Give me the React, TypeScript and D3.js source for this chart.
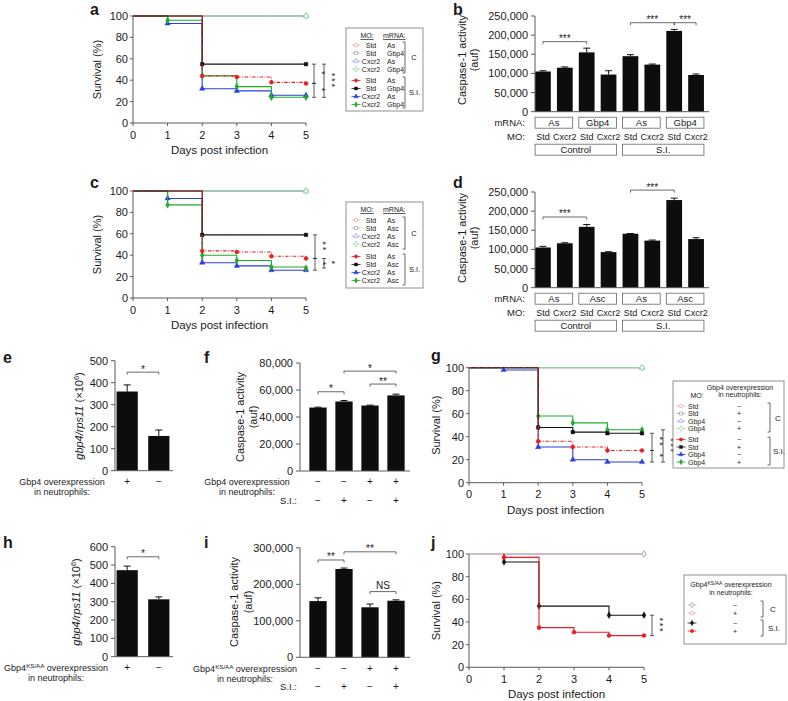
import React from "react";
import * as d3 from "d3";

const FONT = '"Liberation Sans", Arial, Helvetica, sans-serif';
const AXIS = "#5a5a5a";
const INK = "#1a1a1a";

const RED = "#ea1c24";
const BLACK = "#111111";
const BLUE = "#2a3fe0";
const GREEN = "#1faa2a";
const L_RED = "#f5a3a3";
const L_GREY = "#a9a9a9";
const L_BLUE = "#9aa4f0";
const L_GREEN = "#93df93";

// ---------- survival data (% survival at days 0..5) ----------
const DAYS = [0, 1, 2, 3, 4, 5];
const SURVIVAL_TICKS = [0, 20, 40, 60, 80, 100];
const CONTROL_ALL_ALIVE = [100, 100, 100, 100, 100, 100];

const A_SI_STD_AS = [100, 100, 44, 43, 38, 37];
const A_SI_STD_GBP4 = [100, 100, 55, 55, 55, 55];
const A_SI_CXCR2_AS = [100, 93, 32, 30, 26, 26];
const A_SI_CXCR2_GBP4 = [100, 96, 44, 34, 24, 24];

const C_SI_STD_AS = [100, 100, 44, 43, 39, 37];
const C_SI_STD_ASC = [100, 100, 59, 59, 59, 59];
const C_SI_CXCR2_AS = [100, 93, 33, 30, 26, 26];
const C_SI_CXCR2_ASC = [100, 87, 40, 35, 29, 28];

const G_SI_STD_NEG = [100, 100, 36, 31, 28, 28];
const G_SI_STD_POS = [100, 100, 48, 44, 43, 43];
const G_SI_GBP4_NEG = [100, 98, 31, 20, 18, 18];
const G_SI_GBP4_POS = [100, 100, 58, 52, 46, 46];

const J_DAYS_SI = [1, 1, 2, 3, 4, 5];
const J_SI_NEG = [100, 93, 54, 54, 46, 46];
const J_SI_POS = [100, 97, 35, 31, 28, 28];

// ---------- bar data ----------
const MO_LABELS = ["Std", "Cxcr2", "Std", "Cxcr2", "Std", "Cxcr2", "Std", "Cxcr2"];
const B_MRNA = ["As", "Gbp4", "As", "Gbp4"];
const D_MRNA = ["As", "Asc", "As", "Asc"];
const GROUPS = ["Control", "S.I."];
const CASPASE_TICKS_250K = [0, 50000, 100000, 150000, 200000, 250000];
const B_VALUES = [105000, 115000, 155000, 97000, 145000, 123000, 211000, 96000];
const B_ERRORS = [2000, 2000, 11000, 10000, 4000, 1500, 4000, 2500];
const D_VALUES = [105000, 116000, 159000, 93000, 141000, 123000, 229000, 127000];
const D_ERRORS = [3000, 1500, 6000, 1000, 500, 1500, 5000, 3500];

const E_TICKS = [0, 100, 200, 300, 400, 500];
const E_VALUES = [360, 158];
const E_ERRORS = [30, 27];
const H_TICKS = [0, 100, 200, 300, 400, 500, 600];
const H_VALUES = [472, 313];
const H_ERRORS = [22, 13];
const EH_SIGNS = ["+", "−"];

const F_TICKS = [0, 20000, 40000, 60000, 80000];
const F_VALUES = [47000, 51500, 48500, 56000];
const F_ERRORS = [300, 700, 300, 900];
const I_TICKS = [0, 100000, 200000, 300000];
const I_VALUES = [154000, 242000, 137000, 155000];
const I_ERRORS = [9000, 2500, 9000, 2500];
const FI_OVEREXP = ["−", "−", "+", "+"];
const FI_SI = ["−", "+", "−", "+"];

// ---------- legend texts ----------
const AC_LEG_MO = ["Std", "Std", "Cxcr2", "Cxcr2"];
const A_LEG_MRNA = ["As", "Gbp4", "As", "Gbp4"];
const C_LEG_MRNA = ["As", "Asc", "As", "Asc"];
const G_LEG_MO = ["Std", "Std", "Gbp4", "Gbp4"];
const G_LEG_SIGN = ["−", "+", "−", "+"];
const J_LEG_SIGN = ["−", "+"];

const fmt = d3.format(",");
const SHAPES: Record<string, any> = {
  circle: d3.symbolCircle,
  square: d3.symbolSquare,
  triangle: d3.symbolTriangle,
  diamond: d3.symbolDiamond,
};

function Mark({ x, y, shape, color, open, size = 13 }: any) {
  const d = d3.symbol(SHAPES[shape], size)() as string;
  return (
    <path
      transform={`translate(${x},${y})`}
      d={d}
      fill={open ? "#fff" : color}
      stroke={color}
      strokeWidth={open ? 0.8 : 0.4}
    />
  );
}

const C_COLORS = [L_RED, L_GREY, L_BLUE, L_GREEN];
const SI_COLORS = [RED, BLACK, BLUE, GREEN];
const SHAPE_ORDER = ["circle", "square", "triangle", "diamond"];

function mkSeries(ctrl: boolean, idx: number, values: number[], extra: any = {}) {
  return {
    values,
    color: ctrl ? C_COLORS[idx] : SI_COLORS[idx],
    shape: SHAPE_ORDER[idx],
    open: ctrl,
    endOnly: ctrl,
    dashed: !ctrl && idx === 0,
    ...extra,
  };
}

function StarStack({ x, cy, n }: any) {
  const s = "*".repeat(n);
  return (
    <text
      transform={`translate(${x - 0.5},${cy}) rotate(90)`}
      textAnchor="middle"
      fontSize={9.5}
      letterSpacing={1.6}
      fill={INK}
    >
      {s}
    </text>
  );
}

function SurvivalPanel({ x0, x1, y0, y100, series, brackets, labelX }: any) {
  const x = d3.scaleLinear().domain([0, 5]).range([x0, x1]);
  const y = d3.scaleLinear().domain([0, 100]).range([y0, y100]);
  const line = d3
    .line<number[]>()
    .x((d) => x(d[0]))
    .y((d) => y(d[1]))
    .curve(d3.curveStepAfter);
  return (
    <g>
      <line x1={x0} x2={x1} y1={y0} y2={y0} stroke={AXIS} />
      <line x1={x0} x2={x0} y1={y0} y2={y100} stroke={AXIS} />
      {DAYS.map((d) => (
        <g key={"x" + d}>
          <line x1={x(d)} x2={x(d)} y1={y0} y2={y0 + 3} stroke={AXIS} />
          <text x={x(d)} y={y0 + 15.5} textAnchor="middle" fontSize={11}>
            {d}
          </text>
        </g>
      ))}
      {SURVIVAL_TICKS.map((t) => (
        <g key={"y" + t}>
          <line x1={x0 - 3} x2={x0} y1={y(t)} y2={y(t)} stroke={AXIS} />
          <text x={x0 - 5} y={y(t) + 4} textAnchor="end" fontSize={11}>
            {t}
          </text>
        </g>
      ))}
      <text x={(x0 + x1) / 2} y={y0 + 31} textAnchor="middle" fontSize={11.5}>
        Days post infection
      </text>
      <text
        transform={`translate(${labelX},${(y0 + y100) / 2}) rotate(-90)`}
        textAnchor="middle"
        fontSize={11}
      >
        Survival (%)
      </text>
      {series.map((s: any, i: number) => {
        const days = s.days || DAYS;
        const pts = days.map((d: number, j: number) => [d, s.values[j]]);
        const marks = s.endOnly
          ? [pts[pts.length - 1]]
          : pts.filter(
              (p: number[], k: number) => k >= 1 && (k === pts.length - 1 || p[1] !== pts[k - 1][1])
            );
        return (
          <g key={i}>
            <path
              d={line(pts) as string}
              fill="none"
              stroke={s.color}
              strokeWidth={s.open ? 1 : 1.1}
              strokeDasharray={s.dashed ? "3.5,1.5,1,1.5" : undefined}
            />
            {marks.map((p: number[], k: number) => (
              <Mark key={k} x={x(p[0])} y={y(p[1])} shape={s.shape} color={s.color} open={s.open} />
            ))}
          </g>
        );
      })}
      {brackets.map((b: any, i: number) => {
        const bx = x1 + b.dx;
        const ya = y(b.from);
        const yb = y(b.to);
        return (
          <g key={"b" + i}>
            <path
              d={`M${bx - 2},${ya}H${bx + 2}M${bx},${ya}V${yb}M${bx - 2},${yb}H${bx + 2}`}
              stroke="#333"
              strokeWidth={0.8}
              fill="none"
            />
            <StarStack x={bx + 5} cy={(ya + yb) / 2} n={b.stars} />
          </g>
        );
      })}
    </g>
  );
}

function BarCore({ values, errors, ticks, range, pi, po, y0, yTop, axisX, axisEnd, sigs }: any) {
  const x = d3.scaleBand<number>().domain(d3.range(values.length)).range(range).paddingInner(pi).paddingOuter(po);
  const y = d3.scaleLinear().domain([0, ticks[ticks.length - 1]]).range([y0, yTop]);
  const cx = (i: number) => (x(i) as number) + x.bandwidth() / 2;
  return (
    <g>
      {values.map((v: number, i: number) => (
        <rect key={i} x={x(i)} y={y(v)} width={x.bandwidth()} height={y(0) - y(v)} fill="#0d0d0d" />
      ))}
      {values.map((v: number, i: number) => (
        <g key={"e" + i}>
          <line x1={cx(i)} x2={cx(i)} y1={y(v)} y2={y(v + errors[i])} stroke="#111" />
          <line
            x1={cx(i) - 3.5}
            x2={cx(i) + 3.5}
            y1={y(v + errors[i])}
            y2={y(v + errors[i])}
            stroke="#111"
          />
        </g>
      ))}
      <line x1={axisX} x2={axisX} y1={y(0)} y2={yTop} stroke={AXIS} />
      <line x1={axisX} x2={axisEnd} y1={y(0)} y2={y(0)} stroke={AXIS} />
      {ticks.map((t: number) => (
        <g key={t}>
          <line x1={axisX - 4} x2={axisX} y1={y(t)} y2={y(t)} stroke={AXIS} />
          <text x={axisX - 7} y={y(t) + 4} textAnchor="end" fontSize={11}>
            {fmt(t)}
          </text>
        </g>
      ))}
      {sigs.map((s: any, k: number) => {
        const xa = cx(s.a);
        const xb = cx(s.b);
        const yy = y(s.value);
        return (
          <g key={"s" + k}>
            <path d={`M${xa},${yy + 2.5}V${yy}H${xb}V${yy + 2.5}`} fill="none" stroke="#444" strokeWidth={0.8} />
            <text
              x={(xa + xb) / 2}
              y={s.text === "NS" ? yy - 3 : yy + 0.5}
              textAnchor="middle"
              fontSize={10}
            >
              {s.text}
            </text>
          </g>
        );
      })}
    </g>
  );
}

function bandCenters(n: number, range: number[], pi: number, po: number) {
  const x = d3.scaleBand<number>().domain(d3.range(n)).range(range as [number, number]).paddingInner(pi).paddingOuter(po);
  return { x, c: (i: number) => (x(i) as number) + x.bandwidth() / 2 };
}

function CaspaseLabels({ y0, range, pi, po, mrna }: any) {
  const { x, c } = bandCenters(8, range, pi, po);
  const bw = x.bandwidth();
  return (
    <g fontSize={9.5}>
      <text x={525} y={y0 + 14.5} textAnchor="end">
        mRNA:
      </text>
      {mrna.map((m: string, k: number) => {
        const l = x(2 * k) as number;
        const r = (x(2 * k + 1) as number) + bw;
        return (
          <g key={k}>
            <rect x={l} y={y0 + 5.5} width={r - l} height={11} fill="#fff" stroke="#666" strokeWidth={0.8} />
            <text x={(l + r) / 2} y={y0 + 14.5} textAnchor="middle">
              {m}
            </text>
          </g>
        );
      })}
      <text x={525} y={y0 + 28.5} textAnchor="end">
        MO:
      </text>
      {MO_LABELS.map((m, i) => (
        <text key={i} x={c(i)} y={y0 + 28.5} textAnchor="middle" fontSize={9}>
          {m}
        </text>
      ))}
      {GROUPS.map((g, k) => {
        const l = x(4 * k) as number;
        const r = (x(4 * k + 3) as number) + bw;
        return (
          <g key={g}>
            <rect x={l} y={y0 + 32.5} width={r - l} height={11} fill="#fff" stroke="#666" strokeWidth={0.8} />
            <text x={(l + r) / 2} y={y0 + 41.5} textAnchor="middle">
              {g}
            </text>
          </g>
        );
      })}
    </g>
  );
}

function LegendRows({ rows, ys, mx, cols }: any) {
  return (
    <g>
      {rows.map((r: any, i: number) => (
        <g key={i}>
          <line x1={mx - 4.5} x2={mx + 4.5} y1={ys[i] - 2.5} y2={ys[i] - 2.5} stroke={r.color} strokeWidth={0.8} />
          <Mark x={mx} y={ys[i] - 2.5} shape={r.shape} color={r.color} open={r.open} size={9} />
          {r.cols.map((t: string, k: number) => (
            <text key={k} x={cols[k].x} y={ys[i]} textAnchor={cols[k].anchor} fontSize={7}>
              {t}
            </text>
          ))}
        </g>
      ))}
    </g>
  );
}

function LBracket({ x, y1, y2 }: any) {
  return <path d={`M${x - 2.5},${y1}H${x}V${y2}H${x - 2.5}`} fill="none" stroke="#444" strokeWidth={0.8} />;
}

function Letter({ x, y, t }: any) {
  return (
    <text x={x} y={y} fontSize={16} fontWeight="bold">
      {t}
    </text>
  );
}

function Overexp({ cx, y, ks, fs = 9 }: any) {
  return (
    <g fontSize={fs} textAnchor="middle">
      <text x={cx} y={y}>
        Gbp4
        {ks ? (
          <tspan fontSize={6.2} dy={-3.5}>
            KS/AA
          </tspan>
        ) : null}
        <tspan dy={ks ? 3.5 : 0}>{" overexpression"}</tspan>
      </text>
      <text x={cx} y={y + 10}>
        in neutrophils:
      </text>
    </g>
  );
}

export default function App() {
  const seriesA = [
    mkSeries(true, 0, CONTROL_ALL_ALIVE),
    mkSeries(true, 1, CONTROL_ALL_ALIVE),
    mkSeries(true, 2, CONTROL_ALL_ALIVE),
    mkSeries(true, 3, CONTROL_ALL_ALIVE),
    mkSeries(false, 2, A_SI_CXCR2_AS),
    mkSeries(false, 3, A_SI_CXCR2_GBP4),
    mkSeries(false, 1, A_SI_STD_GBP4),
    mkSeries(false, 0, A_SI_STD_AS),
  ];
  const seriesC = [
    mkSeries(true, 0, CONTROL_ALL_ALIVE),
    mkSeries(true, 1, CONTROL_ALL_ALIVE),
    mkSeries(true, 2, CONTROL_ALL_ALIVE),
    mkSeries(true, 3, CONTROL_ALL_ALIVE),
    mkSeries(false, 2, C_SI_CXCR2_AS),
    mkSeries(false, 3, C_SI_CXCR2_ASC),
    mkSeries(false, 1, C_SI_STD_ASC),
    mkSeries(false, 0, C_SI_STD_AS),
  ];
  const seriesG = [
    mkSeries(true, 0, CONTROL_ALL_ALIVE),
    mkSeries(true, 1, CONTROL_ALL_ALIVE),
    mkSeries(true, 2, CONTROL_ALL_ALIVE),
    mkSeries(true, 3, CONTROL_ALL_ALIVE),
    mkSeries(false, 2, G_SI_GBP4_NEG),
    mkSeries(false, 3, G_SI_GBP4_POS),
    mkSeries(false, 1, G_SI_STD_POS),
    mkSeries(false, 0, G_SI_STD_NEG),
  ];
  const seriesJ = [
    { values: CONTROL_ALL_ALIVE, color: L_RED, shape: "circle", open: true, endOnly: true },
    { values: CONTROL_ALL_ALIVE, color: L_GREY, shape: "diamond", open: true, endOnly: true },
    { values: J_SI_NEG, days: J_DAYS_SI, color: BLACK, shape: "diamond", open: false },
    { values: J_SI_POS, days: J_DAYS_SI, color: RED, shape: "circle", open: false },
  ];

  const legRowsAC = (mrna: string[]) => ({
    c: AC_LEG_MO.map((m, i) => ({ color: C_COLORS[i], shape: SHAPE_ORDER[i], open: true, cols: [m, mrna[i]] })),
    s: AC_LEG_MO.map((m, i) => ({ color: SI_COLORS[i], shape: SHAPE_ORDER[i], open: false, cols: [m, mrna[i]] })),
  });
  const legA = legRowsAC(A_LEG_MRNA);
  const legC = legRowsAC(C_LEG_MRNA);
  const acCols = [
    { x: 371, anchor: "middle" },
    { x: 387, anchor: "start" },
  ];
  const legG = {
    c: G_LEG_MO.map((m, i) => ({ color: C_COLORS[i], shape: SHAPE_ORDER[i], open: true, cols: [m, G_LEG_SIGN[i]] })),
    s: G_LEG_MO.map((m, i) => ({ color: SI_COLORS[i], shape: SHAPE_ORDER[i], open: false, cols: [m, G_LEG_SIGN[i]] })),
  };
  const gCols = [
    { x: 688, anchor: "start" },
    { x: 739, anchor: "middle" },
  ];
  const legJ = [
    { color: L_GREY, shape: "diamond", open: true, cols: [J_LEG_SIGN[0]] },
    { color: L_RED, shape: "circle", open: true, cols: [J_LEG_SIGN[1]] },
    { color: BLACK, shape: "diamond", open: false, cols: [J_LEG_SIGN[0]] },
    { color: RED, shape: "circle", open: false, cols: [J_LEG_SIGN[1]] },
  ];

  const fRange = [300, 414];
  const fPi = 0.335;
  const fPo = 0.36;
  const fc = bandCenters(4, fRange, fPi, fPo).c;
  const eRange = [115, 171];
  const ec = bandCenters(2, eRange, 0.33, 0.05).c;

  return (
    <svg
      width={788}
      height={701}
      style={{ position: "absolute", left: 0, top: 0, background: "#fff" }}
      fontFamily={FONT}
      fill={INK}
    >
      <rect width={788} height={701} fill="#fff" />

      {/* ---------- a ---------- */}
      <Letter x={90} y={15} t="a" />
      <SurvivalPanel
        x0={133}
        x1={306}
        y0={123}
        y100={16}
        labelX={101}
        series={seriesA}
        brackets={[
          { dx: 8, from: 55, to: 37, stars: 1 },
          { dx: 8, from: 37, to: 24, stars: 1 },
          { dx: 18, from: 55, to: 24, stars: 3 },
        ]}
      />
      <g>
        <rect x={346} y={28} width={77} height={83} fill="#fff" stroke="#777" strokeWidth={0.8} />
        <text x={367} y={38} textAnchor="middle" fontSize={7} textDecoration="underline">
          MO:
        </text>
        <text x={383} y={38} fontSize={7} textDecoration="underline">
          mRNA:
        </text>
        <LegendRows rows={legA.c} ys={[47.5, 55.5, 63.5, 71.5]} mx={356} cols={acCols} />
        <LegendRows rows={legA.s} ys={[83, 91, 99, 107]} mx={356} cols={acCols} />
        <LBracket x={405} y1={42} y2={73} />
        <text x={414} y={60} textAnchor="middle" fontSize={7.5}>
          C
        </text>
        <LBracket x={405} y1={77} y2={108} />
        <text x={409} y={95} fontSize={7.5}>
          S.I.
        </text>
      </g>

      {/* ---------- b ---------- */}
      <Letter x={453} y={15} t="b" />
      <text transform="translate(466,60) rotate(-90)" textAnchor="middle" fontSize={11}>
        Caspase-1 activity
      </text>
      <text transform="translate(478,60) rotate(-90)" textAnchor="middle" fontSize={11}>
        (auf)
      </text>
      <BarCore
        values={B_VALUES}
        errors={B_ERRORS}
        ticks={CASPASE_TICKS_250K}
        range={[532, 707]}
        pi={0.28}
        po={0.14}
        y0={111.7}
        yTop={16}
        axisX={535}
        axisEnd={709}
        sigs={[
          { a: 0, b: 2, value: 183000, text: "***" },
          { a: 4, b: 6, value: 232500, text: "***" },
          { a: 6, b: 7, value: 232500, text: "***" },
        ]}
      />
      <CaspaseLabels y0={111.7} range={[532, 707]} pi={0.28} po={0.14} mrna={B_MRNA} />

      {/* ---------- c ---------- */}
      <Letter x={90} y={188} t="c" />
      <SurvivalPanel
        x0={133}
        x1={306}
        y0={298}
        y100={191}
        labelX={101}
        series={seriesC}
        brackets={[
          { dx: 9, from: 59, to: 37, stars: 2 },
          { dx: 9, from: 37, to: 26, stars: 1 },
          { dx: 18, from: 37, to: 28, stars: 1 },
        ]}
      />
      <g>
        <rect x={346} y={202} width={77} height={86} fill="#fff" stroke="#777" strokeWidth={0.8} />
        <text x={367} y={212} textAnchor="middle" fontSize={7} textDecoration="underline">
          MO:
        </text>
        <text x={383} y={212} fontSize={7} textDecoration="underline">
          mRNA:
        </text>
        <LegendRows rows={legC.c} ys={[222.5, 230.5, 238.5, 246.5]} mx={356} cols={acCols} />
        <LegendRows rows={legC.s} ys={[259, 267, 275, 283]} mx={356} cols={acCols} />
        <LBracket x={405} y1={217} y2={249} />
        <text x={414} y={236} textAnchor="middle" fontSize={7.5}>
          C
        </text>
        <LBracket x={405} y1={254} y2={285} />
        <text x={409} y={272} fontSize={7.5}>
          S.I.
        </text>
      </g>

      {/* ---------- d ---------- */}
      <Letter x={453} y={188} t="d" />
      <text transform="translate(466,238) rotate(-90)" textAnchor="middle" fontSize={11}>
        Caspase-1 activity
      </text>
      <text transform="translate(478,238) rotate(-90)" textAnchor="middle" fontSize={11}>
        (auf)
      </text>
      <BarCore
        values={D_VALUES}
        errors={D_ERRORS}
        ticks={CASPASE_TICKS_250K}
        range={[532, 707]}
        pi={0.28}
        po={0.14}
        y0={287.7}
        yTop={192}
        axisX={535}
        axisEnd={709}
        sigs={[
          { a: 0, b: 2, value: 184700, text: "***" },
          { a: 4, b: 6, value: 255000, text: "***" },
        ]}
      />
      <CaspaseLabels y0={287.7} range={[532, 707]} pi={0.28} po={0.14} mrna={D_MRNA} />

      {/* ---------- e ---------- */}
      <Letter x={3} y={363} t="e" />
      <text transform="translate(83,416) rotate(-90)" textAnchor="middle" fontSize={11}>
        <tspan fontStyle="italic">gbp4/rps11</tspan> (×10
        <tspan fontSize={7.5} dy={-4}>
          6
        </tspan>
        <tspan dy={4}>)</tspan>
      </text>
      <BarCore
        values={E_VALUES}
        errors={E_ERRORS}
        ticks={E_TICKS}
        range={eRange}
        pi={0.33}
        po={0.05}
        y0={470.7}
        yTop={360.7}
        axisX={115}
        axisEnd={173}
        sigs={[{ a: 0, b: 1, value: 448, text: "*" }]}
      />
      <Overexp cx={62} y={484.5} ks={false} />
      {EH_SIGNS.map((s, i) => (
        <text key={i} x={ec(i)} y={485} textAnchor="middle" fontSize={10}>
          {s}
        </text>
      ))}

      {/* ---------- f ---------- */}
      <Letter x={204} y={363} t="f" />
      <text transform="translate(244,417) rotate(-90)" textAnchor="middle" fontSize={11}>
        Caspase-1 activity
      </text>
      <text transform="translate(257,417) rotate(-90)" textAnchor="middle" fontSize={11}>
        (auf)
      </text>
      <BarCore
        values={F_VALUES}
        errors={F_ERRORS}
        ticks={F_TICKS}
        range={fRange}
        pi={fPi}
        po={fPo}
        y0={471}
        yTop={363}
        axisX={300}
        axisEnd={410}
        sigs={[
          { a: 0, b: 1, value: 58700, text: "*" },
          { a: 2, b: 3, value: 64400, text: "**" },
          { a: 1, b: 3, value: 74000, text: "*" },
        ]}
      />
      <Overexp cx={247} y={484.5} ks={false} />
      <text x={297} y={504} textAnchor="end" fontSize={9.5}>
        S.I.:
      </text>
      {FI_OVEREXP.map((s, i) => (
        <text key={"o" + i} x={fc(i)} y={485} textAnchor="middle" fontSize={10}>
          {s}
        </text>
      ))}
      {FI_SI.map((s, i) => (
        <text key={"s" + i} x={fc(i)} y={504} textAnchor="middle" fontSize={10}>
          {s}
        </text>
      ))}

      {/* ---------- g ---------- */}
      <Letter x={431} y={361} t="g" />
      <SurvivalPanel
        x0={469}
        x1={642}
        y0={482.7}
        y100={367.7}
        labelX={440}
        series={seriesG}
        brackets={[
          { dx: 10, from: 43, to: 28, stars: 2 },
          { dx: 10, from: 28, to: 18, stars: 1 },
          { dx: 21, from: 46, to: 18, stars: 3 },
        ]}
      />
      <g>
        <rect x={673} y={381} width={111} height={87} fill="#fff" stroke="#777" strokeWidth={0.8} />
        <text x={740} y={389.5} textAnchor="middle" fontSize={7}>
          Gbp4 overexpression
        </text>
        <text x={740} y={396.5} textAnchor="middle" fontSize={7}>
          in neutrophils:
        </text>
        <text x={697} y={398} textAnchor="middle" fontSize={7}>
          MO:
        </text>
        <LegendRows rows={legG.c} ys={[408.5, 416, 423.5, 431]} mx={681} cols={gCols} />
        <LegendRows rows={legG.s} ys={[442, 449.5, 457, 464.5]} mx={681} cols={gCols} />
        <LBracket x={770} y1={403} y2={432} />
        <text x={778} y={421} textAnchor="middle" fontSize={8}>
          C
        </text>
        <LBracket x={770} y1={437} y2={465} />
        <text x={773} y={454} fontSize={8}>
          S.I.
        </text>
      </g>

      {/* ---------- h ---------- */}
      <Letter x={3} y={548} t="h" />
      <text transform="translate(80,602) rotate(-90)" textAnchor="middle" fontSize={11}>
        <tspan fontStyle="italic">gbp4/rps11</tspan> (×10
        <tspan fontSize={7.5} dy={-4}>
          6
        </tspan>
        <tspan dy={4}>)</tspan>
      </text>
      <BarCore
        values={H_VALUES}
        errors={H_ERRORS}
        ticks={H_TICKS}
        range={eRange}
        pi={0.33}
        po={0.05}
        y0={656.7}
        yTop={546.7}
        axisX={115}
        axisEnd={173}
        sigs={[{ a: 0, b: 1, value: 545, text: "*" }]}
      />
      <Overexp cx={56} y={671} ks={true} />
      {EH_SIGNS.map((s, i) => (
        <text key={i} x={ec(i)} y={671} textAnchor="middle" fontSize={10}>
          {s}
        </text>
      ))}

      {/* ---------- i ---------- */}
      <Letter x={204} y={548} t="i" />
      <text transform="translate(238,602) rotate(-90)" textAnchor="middle" fontSize={11}>
        Caspase-1 activity
      </text>
      <text transform="translate(252,602) rotate(-90)" textAnchor="middle" fontSize={11}>
        (auf)
      </text>
      <BarCore
        values={I_VALUES}
        errors={I_ERRORS}
        ticks={I_TICKS}
        range={fRange}
        pi={fPi}
        po={fPo}
        y0={657.3}
        yTop={547.8}
        axisX={300}
        axisEnd={410}
        sigs={[
          { a: 0, b: 1, value: 266600, text: "**" },
          { a: 1, b: 3, value: 289000, text: "**" },
          { a: 2, b: 3, value: 180000, text: "NS" },
        ]}
      />
      <Overexp cx={245} y={672} ks={true} />
      <text x={297} y={690} textAnchor="end" fontSize={9.5}>
        S.I.:
      </text>
      {FI_OVEREXP.map((s, i) => (
        <text key={"o" + i} x={fc(i)} y={672} textAnchor="middle" fontSize={10}>
          {s}
        </text>
      ))}
      {FI_SI.map((s, i) => (
        <text key={"s" + i} x={fc(i)} y={690} textAnchor="middle" fontSize={10}>
          {s}
        </text>
      ))}

      {/* ---------- j ---------- */}
      <Letter x={431} y={548} t="j" />
      <SurvivalPanel
        x0={469}
        x1={644}
        y0={667.3}
        y100={554}
        labelX={440}
        series={seriesJ}
        brackets={[{ dx: 8, from: 46, to: 28, stars: 3 }]}
      />
      <g>
        <rect x={684} y={575} width={102} height={69} fill="#fff" stroke="#777" strokeWidth={0.8} />
        <text x={731} y={587} textAnchor="middle" fontSize={7}>
          Gbp4
          <tspan fontSize={5} dy={-2.5}>
            KS/AA
          </tspan>
          <tspan dy={2.5}> overexpression</tspan>
        </text>
        <text x={731} y={595} textAnchor="middle" fontSize={7}>
          in neutrophils:
        </text>
        <LegendRows
          rows={legJ}
          ys={[607.5, 615.5, 625.5, 633.5]}
          mx={692}
          cols={[{ x: 735, anchor: "middle" }]}
        />
        <LBracket x={763} y1={601} y2={617} />
        <text x={773} y={612} textAnchor="middle" fontSize={8}>
          C
        </text>
        <LBracket x={763} y1={620} y2={636} />
        <text x={768} y={631} fontSize={8}>
          S.I.
        </text>
      </g>
    </svg>
  );
}
